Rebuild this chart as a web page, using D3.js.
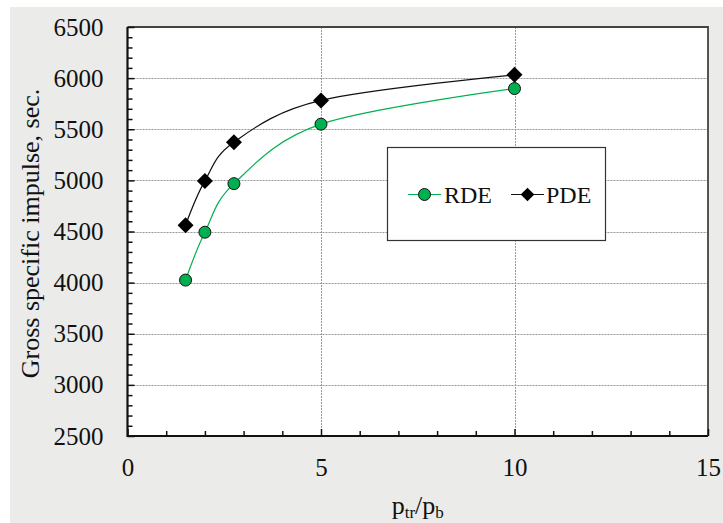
<!DOCTYPE html>
<html>
<head>
<meta charset="utf-8">
<script src="https://cdn.jsdelivr.net/npm/d3@7"></script>
<style>
  body { margin: 0; background: #fff; }
  svg text { font-family: "Liberation Serif", "Times New Roman", serif; fill: #111; }
</style>
</head>
<body>
<div id="container"></div>
<script>
// values
var ratio = [1.5, 2, 2.75, 5, 10];
var rde = [4025, 4493, 4968, 5550, 5898];
var pde = [4562, 4995, 5374, 5782, 6032];
var seriesNames = ["RDE", "PDE"];
var xTicks = [0, 5, 10, 15];
var yTicks = [2500, 3000, 3500, 4000, 4500, 5000, 5500, 6000, 6500];

var WIDTH = 723, HEIGHT = 523;
var GREEN = "#00b050";
var PL = 127.5, PR = 708, PT = 27, PB = 436;

var svg = d3.select("#container").append("svg")
    .attr("width", WIDTH)
    .attr("height", HEIGHT);

// gray chart area
svg.append("rect")
    .attr("x", 10).attr("y", 7)
    .attr("width", WIDTH - 10).attr("height", HEIGHT - 7)
    .attr("fill", "#ebebe9");

var x = d3.scaleLinear().domain([0, 15]).range([PL, PR]);
var y = d3.scaleLinear().domain([2500, 6500]).range([PB, PT]);

svg.append("rect")
    .attr("x", PL).attr("y", PT)
    .attr("width", PR - PL).attr("height", PB - PT)
    .attr("fill", "#fff");

// grid
var grid = svg.append("g")
    .attr("stroke", "#999")
    .attr("stroke-width", 1)
    .attr("stroke-dasharray", "2,1");

grid.selectAll("line.gy")
    .data(yTicks.slice(1, -1))
    .enter().append("line")
    .attr("x1", PL).attr("x2", PR)
    .attr("y1", function(d){ return Math.round(y(d)) + 0.5; })
    .attr("y2", function(d){ return Math.round(y(d)) + 0.5; });

grid.selectAll("line.gx")
    .data(xTicks.slice(1, -1))
    .enter().append("line")
    .attr("y1", PT).attr("y2", PB)
    .attr("x1", function(d){ return Math.round(x(d)) + 0.5; })
    .attr("x2", function(d){ return Math.round(x(d)) + 0.5; });

// top and right border
svg.append("path")
    .attr("d", "M" + PL + "," + PT + "H" + PR + "V" + PB)
    .attr("fill", "none")
    .attr("stroke", "#444")
    .attr("stroke-width", 1.8);

// axes: minor ticks first, then major ticks with labels
var yMinor = d3.axisRight(y).tickValues(d3.range(2600, 6500, 100).filter(function(v){ return v % 500; }))
    .tickSize(5).tickFormat("");
var yMajor = d3.axisLeft(y).tickValues(yTicks).tickSize(-7).tickPadding(24)
    .tickFormat(d3.format("d"));
var xMinor = d3.axisTop(x).tickValues(d3.range(1, 15).filter(function(v){ return v % 5; }))
    .tickSize(5).tickFormat("");
var xMajor = d3.axisBottom(x).tickValues(xTicks).tickSize(-7).tickPadding(22)
    .tickFormat(d3.format("d"));

function styleAxis(g)
{
    g.attr("font-family", null).attr("font-size", null);
    g.select(".domain").remove();
    g.selectAll(".tick line").attr("stroke", "#111").attr("stroke-width", 1.5);
    g.selectAll("text").style("font-size", "25px").attr("fill", "#111");
}

svg.append("g").attr("transform", "translate(" + PL + ",0)").call(yMinor).call(styleAxis);
svg.append("g").attr("transform", "translate(" + PL + ",0)").call(yMajor).call(styleAxis);
svg.append("g").attr("transform", "translate(0," + PB + ")").call(xMinor).call(styleAxis);
svg.append("g").attr("transform", "translate(0," + PB + ")").call(xMajor).call(styleAxis);

svg.append("path")
    .attr("d", "M" + PL + "," + PT + "V" + PB + "H" + PR)
    .attr("fill", "none")
    .attr("stroke", "#111")
    .attr("stroke-width", 2.2);

// axis titles
svg.append("text")
    .attr("transform", "translate(39," + ((PT + PB) / 2 + 2) + ") rotate(-90)")
    .attr("text-anchor", "middle")
    .style("font-size", "26px")
    .text("Gross specific impulse, sec.");

var xt = svg.append("text")
    .attr("x", (PL + PR) / 2)
    .attr("y", 514)
    .attr("text-anchor", "middle")
    .style("font-size", "26px");
xt.append("tspan").text("p");
xt.append("tspan").style("font-size", "17px").attr("dy", 4).text("tr");
xt.append("tspan").attr("dy", -4).text("/p");
xt.append("tspan").style("font-size", "17px").attr("dy", 4).text("b");

// series
var line = d3.line()
    .x(function(d){ return x(d[0]); })
    .y(function(d){ return y(d[1]); })
    .curve(d3.curveCardinal.tension(0));

var rdePts = d3.zip(ratio, rde);
var pdePts = d3.zip(ratio, pde);

svg.append("path").datum(rdePts)
    .attr("d", line).attr("fill", "none")
    .attr("stroke", GREEN).attr("stroke-width", 1.2);
svg.append("path").datum(pdePts)
    .attr("d", line).attr("fill", "none")
    .attr("stroke", "#111").attr("stroke-width", 1.2);

var diamond = "M0,-8L8,0L0,8L-8,0Z";

svg.selectAll("path.pde-mark")
    .data(pdePts).enter().append("path")
    .attr("class", "pde-mark")
    .attr("d", diamond)
    .attr("transform", function(d){ return "translate(" + x(d[0]) + "," + y(d[1]) + ")"; })
    .attr("fill", "#000");

svg.selectAll("circle.rde-mark")
    .data(rdePts).enter().append("circle")
    .attr("class", "rde-mark")
    .attr("cx", function(d){ return x(d[0]); })
    .attr("cy", function(d){ return y(d[1]); })
    .attr("r", 6)
    .attr("fill", GREEN)
    .attr("stroke", "#111")
    .attr("stroke-width", 1);

// legend
var lg = svg.append("g");
lg.append("rect")
    .attr("x", 387.5).attr("y", 147.5)
    .attr("width", 218).attr("height", 93)
    .attr("fill", "#fff").attr("stroke", "#333").attr("stroke-width", 1.2);

var ly = 194.5;
lg.append("line").attr("x1", 408).attr("x2", 441).attr("y1", ly).attr("y2", ly)
    .attr("stroke", GREEN).attr("stroke-width", 1.2);
lg.append("circle").attr("cx", 424.5).attr("cy", ly).attr("r", 6)
    .attr("fill", GREEN).attr("stroke", "#111");
lg.append("text").attr("x", 444).attr("y", ly + 8.5).style("font-size", "24px").text(seriesNames[0]);

lg.append("line").attr("x1", 511).attr("x2", 544).attr("y1", ly).attr("y2", ly)
    .attr("stroke", "#111").attr("stroke-width", 1.2);
lg.append("path").attr("d", diamond)
    .attr("transform", "translate(527.5," + ly + ") scale(0.85)")
    .attr("fill", "#000");
lg.append("text").attr("x", 546).attr("y", ly + 8.5).style("font-size", "24px").text(seriesNames[1]);
</script>
</body>
</html>
